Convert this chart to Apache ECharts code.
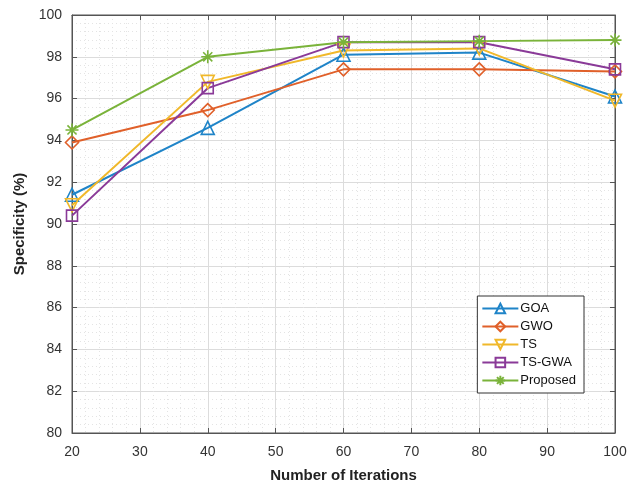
<!DOCTYPE html>
<html>
<head>
<meta charset="utf-8">
<title>Specificity</title>
<script src="https://cdn.jsdelivr.net/npm/echarts@6/dist/echarts.min.js"></script>
<style>
  html, body { margin: 0; padding: 0; background: #fff; }
  #chart { width: 642px; height: 483px; }
</style>
</head>
<body>
<div id="chart"></div>
<script>
  var iterations = [20, 40, 60, 80, 100];
  var goa = [91.4, 94.6, 98.1, 98.2, 96.1];
  var gwo = [93.9, 95.45, 97.4, 97.4, 97.3];
  var ts = [90.9, 96.8, 98.3, 98.4, 95.9];
  var tsGwa = [90.4, 96.5, 98.7, 98.7, 97.4];
  var proposed = [94.5, 98.0, 98.7, 98.75, 98.8];

  var names = ['GOA', 'GWO', 'TS', 'TS-GWA', 'Proposed'];
  var colors = ['#1f84c8', '#e0602a', '#f0b82a', '#8a3a98', '#7ab33a'];
  var symbols = [
    'triangle',
    'diamond',
    'path://M0,0 L10,0 L5,10 Z',
    'rect',
    'path://M5,0 L5,10 M0,5 L10,5 M1.5,1.5 L8.5,8.5 M8.5,1.5 L1.5,8.5'
  ];
  var values = [goa, gwo, ts, tsGwa, proposed];

  function pairs(arr) {
    return arr.map(function (v, i) { return [iterations[i], v]; });
  }

  var myChart = echarts.init(document.getElementById('chart'));

  var series = names.map(function (n, i) {
    return {
      name: n,
      type: 'line',
      data: pairs(values[i]),
      symbol: symbols[i],
      symbolSize: i === 3 ? 11 : 13,
      showAllSymbol: true,
      lineStyle: { color: colors[i], width: 2 },
      itemStyle: { color: 'rgba(255,255,255,0)', borderColor: colors[i], borderWidth: 1.6 },
      emphasis: { disabled: true }
    };
  });

  var axisFont = { fontFamily: 'Liberation Sans, Arial, sans-serif', fontSize: 14, color: '#333' };

  var option = {
    animation: false,
    backgroundColor: '#fff',
    grid: {
      left: 72, right: 27, top: 15, bottom: 50,
      outerBoundsMode: 'none', containLabel: false,
      show: true, borderColor: '#555', borderWidth: 1
    },
    legend: {
      orient: 'vertical',
      right: 58,
      top: 296,
      backgroundColor: '#fff',
      borderColor: '#333',
      borderWidth: 1,
      padding: [6, 8, 6, 4],
      itemGap: 5,
      itemWidth: 36,
      itemHeight: 12,
      textStyle: { fontFamily: 'Liberation Sans, Arial, sans-serif', fontSize: 13, color: '#111', padding: [0, 0, 0, -3] },
      data: names
    },
    xAxis: [{
      type: 'value',
      min: 20, max: 100, interval: 10,
      name: 'Number of Iterations',
      nameLocation: 'middle',
      nameGap: 35,
      nameTextStyle: { fontFamily: 'Liberation Sans, Arial, sans-serif', fontSize: 15, fontWeight: 'bold', color: '#222' },
      axisLine: { lineStyle: { color: '#555' } },
      axisTick: { inside: true, length: 5, lineStyle: { color: '#555' } },
      axisLabel: Object.assign({ margin: 12 }, axisFont),
      splitLine: { lineStyle: { color: '#dcdcdc', width: 1 } },
      minorTick: { show: false, splitNumber: 5 },
      minorSplitLine: { show: true, lineStyle: { color: '#e4e4e4', type: [1, 3], width: 1 } }
    }, {
      type: 'value', position: 'top',
      min: 20, max: 100, interval: 10,
      axisLine: { show: true, lineStyle: { color: '#555' } },
      axisTick: { inside: true, length: 5, lineStyle: { color: '#555' } },
      axisLabel: { show: false },
      splitLine: { show: false }
    }],
    yAxis: [{
      type: 'value',
      min: 80, max: 100, interval: 2,
      name: 'Specificity (%)',
      nameLocation: 'middle',
      nameGap: 39,
      nameTextStyle: { fontFamily: 'Liberation Sans, Arial, sans-serif', fontSize: 15, fontWeight: 'bold', color: '#222' },
      axisLine: { show: true, lineStyle: { color: '#555' } },
      axisTick: { inside: true, length: 5, lineStyle: { color: '#555' } },
      axisLabel: Object.assign({ margin: 10 }, axisFont),
      splitLine: { lineStyle: { color: '#dcdcdc', width: 1 } },
      minorTick: { show: false, splitNumber: 5 },
      minorSplitLine: { show: true, lineStyle: { color: '#e4e4e4', type: [1, 3], width: 1 } }
    }, {
      type: 'value', position: 'right',
      min: 80, max: 100, interval: 2,
      axisLine: { show: true, lineStyle: { color: '#555' } },
      axisTick: { show: true, inside: true, length: 5, lineStyle: { color: '#555' } },
      axisLabel: { show: false },
      splitLine: { show: false }
    }],
    series: series
  };

  myChart.setOption(option);
</script>
</body>
</html>
